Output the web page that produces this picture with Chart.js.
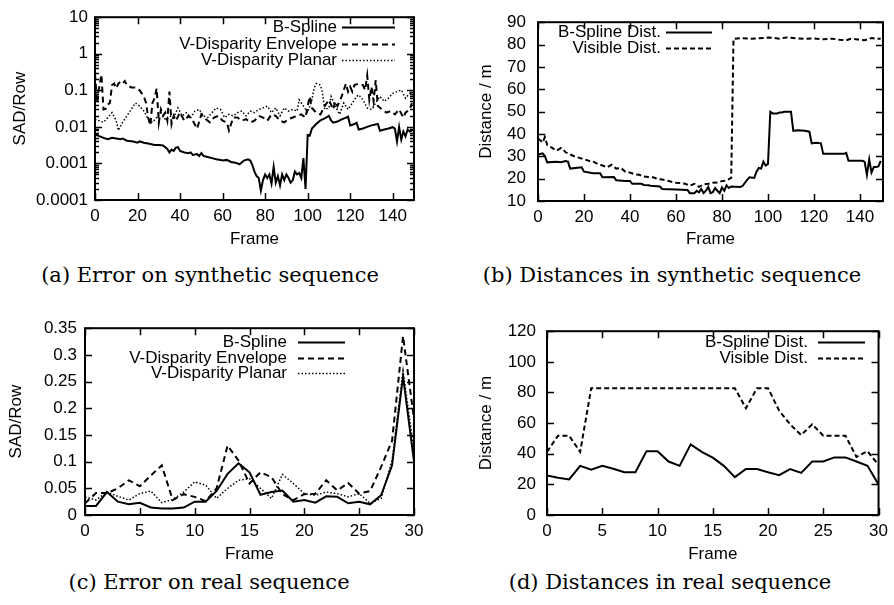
<!DOCTYPE html>
<html>
<head>
<meta charset="utf-8">
<script src="https://cdn.jsdelivr.net/npm/chart.js@4.4.1/dist/chart.umd.min.js"></script>
<style>
  body { margin: 0; background: #fff; width: 894px; height: 605px; position: relative; overflow: hidden; }
  canvas { position: absolute; }
  .cap { position: absolute; width: 400px; font-family: 'DejaVu Serif', serif; font-size: 21px; line-height: 26px;
         text-align: center; white-space: nowrap; color: #000; }
</style>
</head>
<body>
<canvas id="chartA" width="447" height="255" style="left:0;top:0"></canvas>
<canvas id="chartB" width="447" height="255" style="left:447px;top:0"></canvas>
<canvas id="chartC" width="447" height="255" style="left:0;top:310px"></canvas>
<canvas id="chartD" width="447" height="255" style="left:447px;top:310px"></canvas>
<div class="cap" style="left:10px;top:262px">(a) Error on synthetic sequence</div>
<div class="cap" style="left:472px;top:262px">(b) Distances in synthetic sequence</div>
<div class="cap" style="left:9px;top:569px">(c) Error on real sequence</div>
<div class="cap" style="left:470px;top:569px">(d) Distances in real sequence</div>
<script>
// ---- (a) error on synthetic sequence (log scale) ----
const synthSplineFrames = [0,2,4,6,8,10,12,13,15,18,20,21,23,25,28,30,32,34,35,36,37,38,39,40,42,44,45,46,48,49,50,51,53,55,57,59,60,62,64,66,68,70,72,73,74,75,76,77,78,79,80,81,82,83,84,85,86,87,88,89,90,91,92,93,94,95,96,97,98,99,100,101,102,104,106,108,110,111,112,114,116,118,119,120,122,123,124,126,128,130,133,134,136,138,140,141,142,143,144,145,146,147,148,149];
const synthSplineErr = [0.0065,0.0056,0.005,0.0046,0.005,0.0048,0.0046,0.0048,0.0042,0.004,0.0037,0.004,0.0037,0.0035,0.0032,0.0032,0.0031,0.0025,0.002,0.0024,0.0022,0.0027,0.0028,0.0022,0.002,0.0019,0.002,0.0017,0.0018,0.0016,0.0019,0.0016,0.0015,0.0014,0.0013,0.00125,0.0012,0.00125,0.0011,0.00105,0.00095,0.0012,0.0013,0.0012,0.0009,0.0006,0.00045,0.0004,0.00018,0.00035,0.0005,0.0004,0.0005,0.00028,0.0008,0.0003,0.00045,0.00025,0.0005,0.00035,0.0005,0.0004,0.0003,0.00035,0.0006,0.0005,0.00055,0.0004,0.0014,0.0002,0.006,0.0058,0.009,0.012,0.015,0.017,0.02,0.015,0.013,0.014,0.016,0.018,0.019,0.011,0.012,0.013,0.0085,0.009,0.01,0.011,0.012,0.0078,0.0085,0.009,0.0098,0.009,0.004,0.01,0.0045,0.0075,0.0055,0.0085,0.0075,0.008];

const synthEnvFrames = [0,1,2,3,4,5,6,7,8,9,10,11,12,13,14,15,17,19,21,23,24,25,26,27,28,29,30,31,32,33,34,35,36,37,38,40,42,44,46,48,50,52,54,56,58,60,62,63,65,67,69,71,73,75,77,79,81,83,85,87,89,91,93,95,97,99,100,101,102,104,106,108,110,112,113,114,116,117,118,119,120,121,122,124,126,127,128,129,130,131,132,133,135,137,139,141,143,145,146,148,149];
const synthEnvErr = [0.28,0.045,0.125,0.27,0.03,0.031,0.041,0.045,0.139,0.153,0.113,0.153,0.17,0.153,0.18,0.139,0.12,0.12,0.1,0.068,0.045,0.018,0.011,0.045,0.061,0.113,0.013,0.03,0.02,0.0245,0.0147,0.092,0.012,0.02,0.0147,0.0245,0.0147,0.02,0.0147,0.0089,0.022,0.0163,0.0133,0.018,0.02,0.0147,0.0133,0.008,0.018,0.018,0.0147,0.0163,0.0133,0.0147,0.02,0.018,0.0147,0.022,0.02,0.0147,0.0133,0.0163,0.018,0.02,0.022,0.018,0.037,0.068,0.033,0.0245,0.022,0.037,0.055,0.03,0.05,0.037,0.068,0.102,0.153,0.092,0.125,0.092,0.139,0.153,0.139,0.102,0.255,0.055,0.125,0.05,0.19,0.037,0.03,0.0245,0.027,0.022,0.03,0.018,0.0245,0.03,0.045];

const synthPlanarFrames = [0,2,4,6,8,10,11,13,15,17,19,21,23,25,27,29,31,33,35,37,39,41,43,45,47,49,51,53,55,57,59,61,63,65,67,69,71,73,75,77,79,81,83,85,87,89,91,93,95,96,98,100,102,103,104,106,107,108,110,111,113,115,117,119,121,123,124,126,128,130,132,134,136,138,140,142,144,146,148,149];
const synthPlanarErr = [0.0163,0.0147,0.0133,0.018,0.0245,0.0147,0.008,0.0133,0.02,0.03,0.045,0.037,0.027,0.0163,0.0133,0.018,0.0245,0.0163,0.02,0.018,0.033,0.02,0.0245,0.018,0.027,0.03,0.02,0.018,0.0245,0.033,0.03,0.018,0.022,0.02,0.0245,0.027,0.02,0.027,0.0245,0.03,0.033,0.037,0.0245,0.033,0.02,0.033,0.027,0.03,0.027,0.055,0.037,0.0245,0.055,0.113,0.153,0.139,0.083,0.03,0.033,0.068,0.037,0.022,0.045,0.03,0.045,0.068,0.075,0.055,0.033,0.03,0.045,0.068,0.05,0.061,0.083,0.092,0.102,0.061,0.083,0.092];

const synthErrTicks = [0.0001, 0.001, 0.01, 0.1, 1, 10];

// ---- (b) distances in synthetic sequence ----
const synthDistFrames = [0,2,3,4,8,10,12,13,14,19,20,24,27,28,33,34,38,40,41,45,46,48,49,53,54,60,65,66,68,69,70,71,72,73,74,75,76,77,78,79,80,81,82,83,84,88,89,91,92,94,95,96,97,98,99,100,101,102,104,105,106,107,110,111,113,116,118,119,121,123,124,128,133,134,135,141,142,143,144,145,146,147,148,149];
const synthSplineDist = [30.8,31.3,30.1,27.3,27.6,27.3,27.9,27.6,24.5,25.1,23.1,22.4,22.4,20.6,20.7,19.3,18.9,18.9,17.7,17.7,17.2,17.0,16.8,16.5,15.4,15.1,14.9,13.5,13.5,14.6,13.9,15.4,13.5,14.6,16.3,13.5,13.9,15.8,14.6,13.5,16.1,14.6,17.0,15.8,16.5,16.3,16.8,19.6,20.6,20.3,23.1,24.8,24.5,27.6,25.9,26.6,49.9,49.2,49.2,49.6,49.6,49.9,49.9,41.4,41.7,41.4,41.0,35.8,36.1,35.8,31.1,31.1,31.1,31.5,28.0,28.0,27.6,21.7,28.7,22.8,25.2,25.2,25.5,28.0];

const synthVisFrames = [0,1,2,3,4,6,8,10,11,12,14,16,18,20,22,24,26,28,30,32,34,36,38,40,42,44,46,48,50,52,54,56,58,60,62,64,66,68,70,72,74,76,78,80,82,84,85,88,92,96,100,102,105,108,112,116,120,124,128,131,134,136,139,142,145,147,149];
const synthVisDist = [37.9,37.2,36.1,38.6,35.1,33.9,32.5,33.7,33.0,31.8,30.8,29.9,29.3,28.7,28.0,27.6,26.6,25.9,25.1,26.2,24.5,24.8,23.1,22.7,22.0,21.7,21.0,20.7,20.6,19.9,19.6,19.2,18.6,18.2,18.0,17.7,16.8,17.7,16.3,17.5,17.7,18.2,18.3,18.9,19.2,20.3,82.5,82.9,82.6,82.8,83.1,83.0,82.6,83.2,82.8,82.6,82.7,82.4,82.6,82.2,81.9,82.6,82.3,81.9,82.9,82.6,82.6];

// ---- (c), (d) real sequence, one value per frame ----
const realFrames = [0,1,2,3,4,5,6,7,8,9,10,11,12,13,14,15,16,17,18,19,20,21,22,23,24,25,26,27,28,29,30];
const realSplineErr = [0.017,0.017,0.043,0.025,0.02,0.023,0.014,0.012,0.012,0.014,0.025,0.025,0.045,0.077,0.097,0.08,0.038,0.043,0.046,0.025,0.028,0.023,0.035,0.034,0.022,0.025,0.02,0.037,0.093,0.26,0.10];
const realEnvErr = [0.022,0.041,0.041,0.05,0.065,0.054,0.074,0.093,0.028,0.039,0.034,0.026,0.05,0.13,0.102,0.059,0.08,0.071,0.039,0.028,0.039,0.04,0.065,0.046,0.06,0.04,0.045,0.09,0.139,0.335,0.18];
const realPlanarErr = [0.034,0.028,0.043,0.035,0.028,0.04,0.045,0.023,0.029,0.043,0.062,0.056,0.031,0.05,0.065,0.068,0.05,0.031,0.076,0.059,0.04,0.037,0.043,0.04,0.034,0.04,0.022,0.031,0.102,0.27,0.12];
const realSplineDist = [25.8,24.3,23.2,32.1,29.6,32.1,30.2,27.9,27.9,41.6,41.6,34.9,32.1,46.1,41.2,37.4,32.1,24.7,30,30,27.9,26,30,27.5,34.9,34.9,37.6,37.6,34.9,32.1,20];
const realVisDist = [41.2,51.8,51.8,41.2,82.8,82.8,82.8,82.8,82.8,82.8,82.8,82.8,82.8,82.8,82.8,82.8,82.8,82.8,69.7,82.8,82.8,68.2,59.2,52.2,59.2,51.8,51.8,51.8,38,41.6,32.7];

const FONT = { family: '"Liberation Sans", Arial, sans-serif', size: 17 };
Chart.defaults.color = '#000';
Chart.defaults.font.family = FONT.family;
Chart.defaults.font.size = FONT.size;

function pts(frames, vals) {
  return frames.map((f, i) => ({ x: f, y: vals[i] }));
}

const solid = { borderWidth: 2, borderDash: [] };
const dashed = { borderWidth: 2, borderDash: [6, 4] };
const dotted = { borderWidth: 1.5, borderDash: [1.5, 2] };

// gnuplot look: closed frame, ticks pointing inward, key with text before the sample
const gnuplotFrame = {
  id: 'gnuplotFrame',
  afterDraw(chart, args, opts) {
    const ctx = chart.ctx;
    const a = chart.chartArea;
    const xs = chart.scales.x, ys = chart.scales.y;
    ctx.save();
    ctx.strokeStyle = '#000';
    ctx.setLineDash([]);
    ctx.lineWidth = 1.5;
    ctx.beginPath();
    xs.ticks.forEach(t => {
      const px = Math.round(xs.getPixelForValue(t.value)) + 0.5;
      ctx.moveTo(px, a.bottom); ctx.lineTo(px, a.bottom - 7);
      ctx.moveTo(px, a.top); ctx.lineTo(px, a.top + 7);
    });
    ys.ticks.forEach(t => {
      const py = Math.round(ys.getPixelForValue(t.value)) + 0.5;
      ctx.moveTo(a.left, py); ctx.lineTo(a.left + 7, py);
      ctx.moveTo(a.right, py); ctx.lineTo(a.right - 7, py);
    });
    if (opts.logMinor) {
      for (let k = 0; k < synthErrTicks.length - 1; k++) {
        for (let m = 2; m <= 9; m++) {
          const py = Math.round(ys.getPixelForValue(synthErrTicks[k] * m)) + 0.5;
          ctx.moveTo(a.left, py); ctx.lineTo(a.left + 4, py);
          ctx.moveTo(a.right, py); ctx.lineTo(a.right - 4, py);
        }
      }
    }
    ctx.stroke();
    ctx.lineWidth = 2;
    ctx.strokeRect(a.left, a.top, a.right - a.left, a.bottom - a.top);

    const lg = opts.legend;
    ctx.font = FONT.size + 'px ' + FONT.family;
    ctx.fillStyle = '#000';
    ctx.textAlign = 'right';
    ctx.textBaseline = 'middle';
    chart.data.datasets.forEach((ds, i) => {
      const y = Math.round(lg.y + i * lg.rowH) + 0.5;
      ctx.fillText(ds.label, lg.textRight, y);
      ctx.setLineDash(ds.borderDash);
      ctx.lineWidth = ds.borderWidth;
      ctx.beginPath();
      ctx.moveTo(lg.x0, y);
      ctx.lineTo(lg.x1, y);
      ctx.stroke();
    });
    ctx.restore();
  }
};

function makeChart(id, datasets, cfg) {
  const ctx = document.getElementById(id).getContext('2d');
  const yScale = Object.assign({
    grid: { display: false, drawTicks: false },
    border: { display: false },
    title: { display: true, text: cfg.yTitle, padding: { top: cfg.yTitlePad, bottom: 0 } },
    afterFit: s => { s.width = cfg.yWidth; }
  }, cfg.y);
  yScale.ticks = Object.assign({ padding: cfg.yTickPad, autoSkip: false }, cfg.y.ticks);

  return new Chart(ctx, {
    type: 'line',
    data: {
      datasets: datasets.map(d => Object.assign({
        borderColor: '#000',
        backgroundColor: '#000',
        pointRadius: 0,
        tension: 0,
        fill: false
      }, d))
    },
    options: {
      responsive: false,
      animation: false,
      events: [],
      layout: { padding: { top: cfg.padTop, right: cfg.padRight, left: 0, bottom: 0 } },
      scales: {
        x: {
          type: 'linear',
          min: 0,
          max: cfg.xMax,
          grid: { display: false, drawTicks: false },
          border: { display: false },
          ticks: { stepSize: cfg.xStep, includeBounds: false, padding: 6, maxRotation: 0, autoSkip: false },
          title: { display: true, text: 'Frame', padding: { top: 0, bottom: cfg.xTitlePad } },
          afterFit: s => { s.height = cfg.xHeight; }
        },
        y: yScale
      },
      plugins: {
        legend: { display: false },
        tooltip: { enabled: false },
        gnuplotFrame: { legend: cfg.legend, logMinor: !!cfg.logMinor }
      }
    },
    plugins: [gnuplotFrame]
  });
}

const roundLabel = v => String(Math.round(v * 100) / 100);

// (a)
makeChart('chartA', [
  Object.assign({ label: 'B-Spline', data: pts(synthSplineFrames, synthSplineErr) }, solid),
  Object.assign({ label: 'V-Disparity Envelope', data: pts(synthEnvFrames, synthEnvErr) }, dashed),
  Object.assign({ label: 'V-Disparity Planar', data: pts(synthPlanarFrames, synthPlanarErr) }, dotted)
], {
  xMax: 150, xStep: 20, xHeight: 55, xTitlePad: 5,
  yWidth: 95, yTickPad: 7, yTitle: 'SAD/Row', yTitlePad: 10,
  padTop: 12, padRight: 33, logMinor: true,
  y: {
    type: 'logarithmic', min: 0.0001, max: 10,
    afterBuildTicks: s => { s.ticks = synthErrTicks.map(v => ({ value: v })); },
    ticks: { callback: v => String(v) }
  },
  legend: { textRight: 337, x0: 342, x1: 395, y: 27, rowH: 16.7 }
});

// (b)
makeChart('chartB', [
  Object.assign({ label: 'B-Spline Dist.', data: pts(synthDistFrames, synthSplineDist) }, solid),
  Object.assign({ label: 'Visible Dist.', data: pts(synthVisFrames, synthVisDist) }, dashed, { borderDash: [5, 3] })
], {
  xMax: 150, xStep: 20, xHeight: 54, xTitlePad: 5,
  yWidth: 91, yTickPad: 12, yTitle: 'Distance / m', yTitlePad: 29,
  padTop: 12, padRight: 11,
  y: { type: 'linear', min: 10, max: 90, ticks: { stepSize: 10 } },
  legend: { textRight: 214, x0: 219, x1: 265, y: 32, rowH: 15.5 }
});

// (c)
makeChart('chartC', [
  Object.assign({ label: 'B-Spline', data: pts(realFrames, realSplineErr) }, solid),
  Object.assign({ label: 'V-Disparity Envelope', data: pts(realFrames, realEnvErr) }, dashed),
  Object.assign({ label: 'V-Disparity Planar', data: pts(realFrames, realPlanarErr) }, dotted)
], {
  xMax: 30, xStep: 5, xHeight: 50, xTitlePad: 0,
  yWidth: 85, yTickPad: 8, yTitle: 'SAD/Row', yTitlePad: 6,
  padTop: 17, padRight: 33,
  y: { type: 'linear', min: 0, max: 0.35, ticks: { stepSize: 0.05, callback: roundLabel } },
  legend: { textRight: 287, x0: 298, x1: 345, y: 32, rowH: 15.6 }
});

// (d)
makeChart('chartD', [
  Object.assign({ label: 'B-Spline Dist.', data: pts(realFrames, realSplineDist) }, solid),
  Object.assign({ label: 'Visible Dist.', data: pts(realFrames, realVisDist) }, dashed, { borderDash: [5, 3] })
], {
  xMax: 30, xStep: 5, xHeight: 50, xTitlePad: 0,
  yWidth: 100, yTickPad: 11, yTitle: 'Distance / m', yTitlePad: 29,
  padTop: 16, padRight: 11,
  y: { type: 'linear', min: 0, max: 120, ticks: { stepSize: 20 } },
  legend: { textRight: 361, x0: 371, x1: 418, y: 32, rowH: 15.6 }
});
</script>
</body>
</html>
